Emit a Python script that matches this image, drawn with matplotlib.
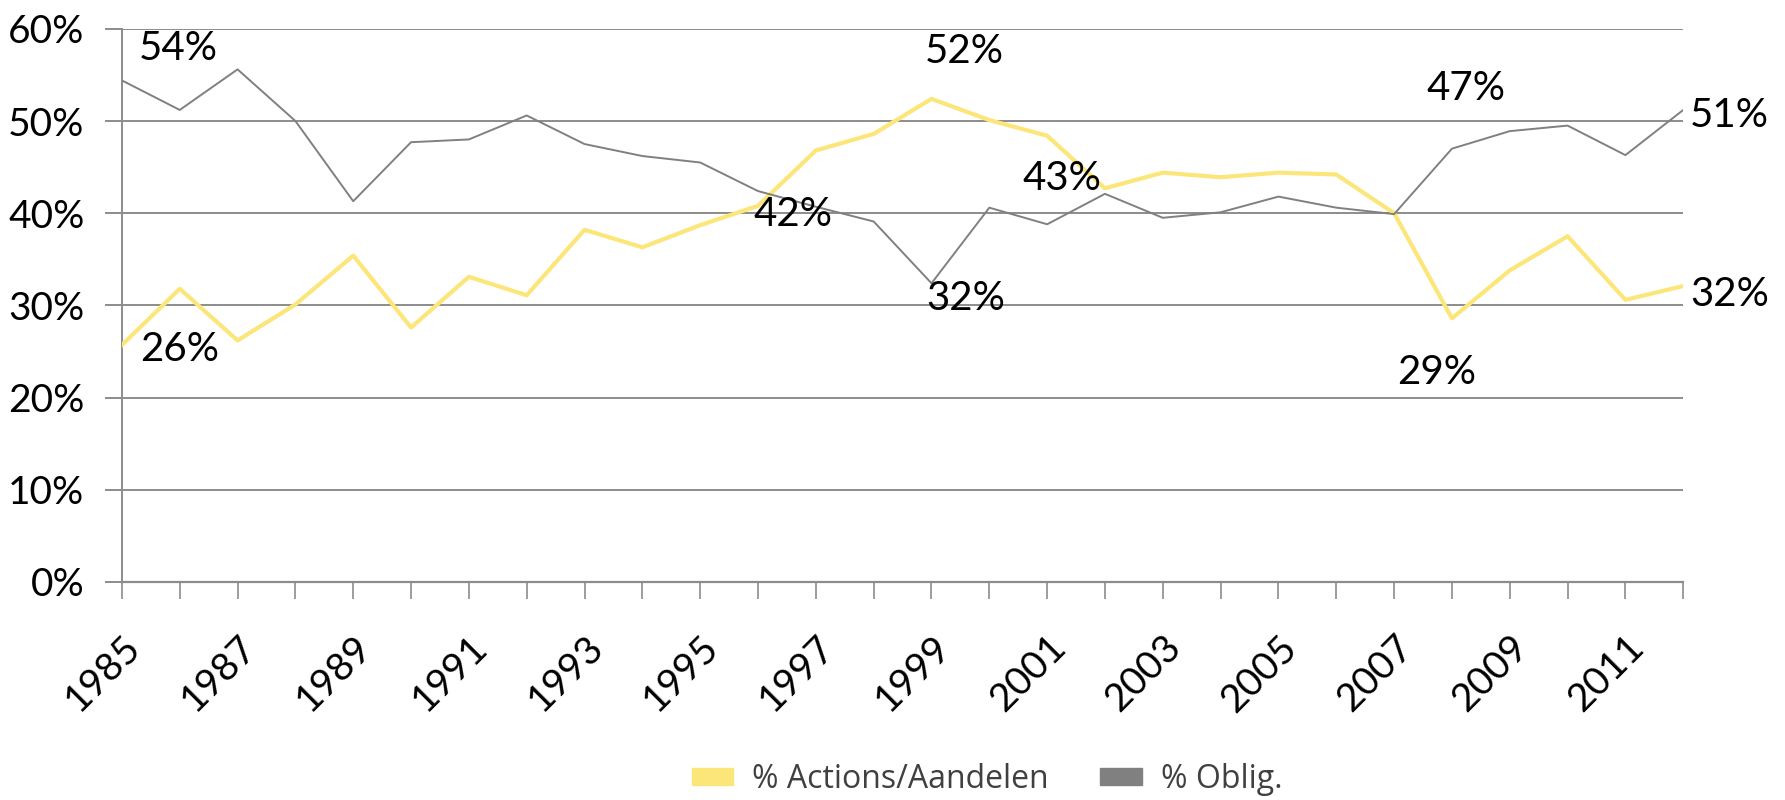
import numpy as np
import matplotlib
matplotlib.use('Agg')
import matplotlib.pyplot as plt
from matplotlib.patches import Patch

# --- data ---
years = np.arange(1985, 2013)
actions = [25.7, 31.8, 26.2, 30.1, 35.4, 27.6, 33.1, 31.1, 38.2, 36.3,
           38.7, 40.8, 46.8, 48.6, 52.4, 50.1, 48.4, 42.7, 44.4, 43.9,
           44.4, 44.2, 40.0, 28.6, 33.8, 37.5, 30.6, 32.1]
oblig = [54.4, 51.2, 55.6, 50.0, 41.3, 47.7, 48.0, 50.6, 47.5, 46.2,
         45.5, 42.4, 40.7, 39.1, 32.4, 40.6, 38.8, 42.1, 39.5, 40.1,
         41.8, 40.6, 39.9, 47.0, 48.9, 49.5, 46.3, 51.2]
series_names = ['% Actions/Aandelen', '% Oblig.']

# data labels: (series, year, offset x, offset y)
labels = [
    ('oblig', 1985, 0.98, 3.5),
    ('actions', 1985, 1.0, -0.5),
    ('oblig', 1996, 0.6, -2.5),
    ('actions', 1999, 0.57, 5.1),
    ('oblig', 1999, 0.6, -1.7),
    ('actions', 2002, -0.74, 1.1),
    ('oblig', 2008, 0.25, 6.5),
    ('actions', 2008, -0.27, -5.9),
    ('oblig', 2012, 0.8, -0.6),
    ('actions', 2012, 0.8, -0.9),
]

yellow = '#FCE67A'
grey = '#808080'
gridc = '#8C8C8C'
font = 'Lato'

fig = plt.figure(figsize=(17.85, 8), dpi=100)
ax = fig.add_axes([0.0683, 0.2725, 0.8747, 0.6915])

ax.plot(years, actions, color=yellow, lw=3.0, zorder=3)
ax.plot(years, oblig, color=grey, lw=1.4, zorder=3)

values = {'actions': dict(zip(years, actions)), 'oblig': dict(zip(years, oblig))}
for name, yr, dx, dy in labels:
    v = values[name][yr]
    ax.text(yr + dx, v + dy, f"{round(v)}%", ha='center', va='center',
            fontsize=29, family=font, color='black', zorder=4)

ax.set_xlim(1985, 2012)
ax.set_ylim(0, 60)
ax.set_yticks(np.arange(0, 61, 10))
ax.set_yticklabels([f"{v}%" for v in range(0, 61, 10)], fontsize=28, family=font)
ax.yaxis.grid(True, color=gridc, lw=1.4)
ax.set_axisbelow(True)

ax.set_xticks(years)
ax.set_xticklabels([str(y) if (y - 1985) % 2 == 0 else '' for y in years],
                   rotation=45, ha='right', va='top', rotation_mode='anchor',
                   fontsize=28, family=font)

ax.tick_params(axis='y', length=12, width=1.4, color=gridc, pad=15)
ax.tick_params(axis='x', length=12, width=1.2, color=gridc, pad=22)

for s in ['top', 'right']:
    ax.spines[s].set_visible(False)
ax.spines['left'].set_color(gridc)
ax.spines['left'].set_linewidth(1.4)
ax.spines['bottom'].set_color(gridc)
ax.spines['bottom'].set_linewidth(1.6)

handles = [Patch(color=yellow), Patch(color=grey)]
leg = fig.legend(handles, series_names, loc='center', bbox_to_anchor=(0.553, 0.026),
                 ncol=2, frameon=False, prop={'family': 'Open Sans', 'size': 23},
                 handlelength=1.3, handleheight=0.45, columnspacing=1.6,
                 handletextpad=0.6)
for t in leg.get_texts():
    t.set_color('#404040')

fig.savefig('out.png', dpi=100)
